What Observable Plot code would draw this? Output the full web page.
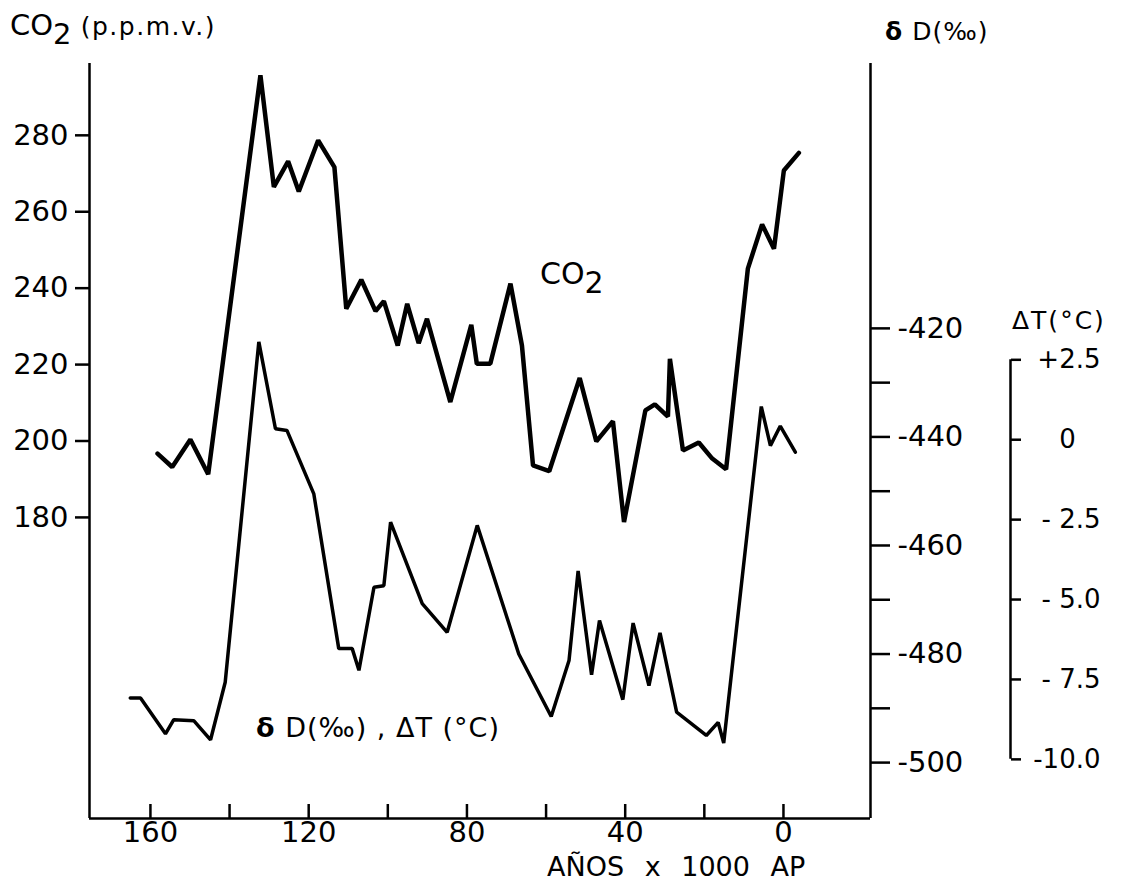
<!DOCTYPE html>
<html>
<head>
<meta charset="utf-8">
<script src="https://cdn.jsdelivr.net/npm/d3@7"></script>
<script src="https://cdn.jsdelivr.net/npm/@observablehq/plot@0.6"></script>
<style>
  html, body { margin: 0; padding: 0; background: #fff; }
  #wrap { position: relative; width: 1123px; height: 885px; font-family: "DejaVu Sans", sans-serif; color: #000; }
  #wrap svg { position: absolute; left: 0; top: 0; }
  .lbl { position: absolute; line-height: 1; white-space: nowrap; }
  .sub { position: relative; top: 0.3em; font-size: 1em; }
</style>
</head>
<body>
<div id="wrap">
  <div class="lbl" style="left:10px;top:11px;font-size:29px;">CO<span class="sub">2</span> <span style="font-size:25px;letter-spacing:1.5px;">(p.p.m.v.)</span></div>
  <div class="lbl" style="left:885px;top:19px;font-size:25px;letter-spacing:1px;"><b>δ</b> D(‰)</div>
  <div class="lbl" style="left:1012px;top:308px;font-size:25px;letter-spacing:2px;">ΔT(°C)</div>
  <div class="lbl" style="left:540px;top:259px;font-size:30px;">CO<span class="sub">2</span></div>
  <div class="lbl" style="left:256px;top:714px;font-size:27px;letter-spacing:1px;"><b>δ</b> D(‰) , ΔT (°C)</div>
  <div class="lbl" style="left:547px;top:853px;font-size:27px;word-spacing:12px;">AÑOS x 1000 AP</div>
</div>
<script>
// ---- data (ages in thousands of years before present) ----
const co2Age = [158.2, 154.5, 149.9, 145.4, 132.2, 128.8, 125.2, 122.5, 117.6, 113.5, 110.5, 106.7, 103.1, 101.0, 97.5, 95.1, 92.2, 90.1, 84.2, 78.9, 77.5, 74.1, 69.0, 66.1, 63.3, 59.2, 51.5, 47.3, 43.1, 40.3, 34.9, 32.5, 29.2, 28.7, 25.4, 21.4, 18.0, 14.5, 9.0, 5.4, 2.4, -0.1, -3.9];
const co2Ppm = [196.7, 193.2, 200.4, 191.3, 295.7, 266.5, 273.2, 265.3, 278.7, 271.7, 234.6, 242.2, 234.0, 236.6, 225.0, 235.9, 225.6, 232.0, 210.2, 230.4, 220.2, 220.2, 241.2, 225.0, 193.6, 192.1, 216.5, 199.9, 205.2, 178.8, 208.0, 209.6, 206.4, 221.5, 197.5, 199.6, 195.4, 192.6, 245.1, 256.7, 250.3, 270.8, 275.4];

const dDAge = [165.1, 162.5, 156.2, 154.1, 149.0, 144.8, 141.1, 132.6, 128.4, 125.5, 118.7, 112.4, 109.0, 107.3, 103.5, 101.0, 99.3, 91.3, 85.0, 77.4, 66.9, 58.7, 54.2, 51.9, 48.5, 46.5, 40.6, 38.0, 34.0, 31.2, 27.0, 19.5, 16.5, 15.1, 5.6, 3.3, 0.8, -3.0];
const dDVal = [-488.1, -488.1, -494.7, -492.1, -492.3, -495.8, -485.2, -422.5, -438.5, -438.8, -450.5, -479.0, -479.0, -483.0, -467.7, -467.4, -455.7, -470.7, -476.0, -456.3, -480.0, -491.5, -481.2, -464.7, -483.8, -473.8, -488.4, -474.3, -485.8, -476.1, -490.7, -495.0, -492.6, -496.4, -434.4, -441.6, -438.0, -442.8];

// ---- ticks ----
const xTicks = [160, 140, 120, 100, 80, 60, 40, 20, 0];
const xLabels = [160, 120, 80, 40, 0];
const co2Ticks = [180, 200, 220, 240, 260, 280];
const dDTicks = [-420, -430, -440, -450, -460, -470, -480, -490, -500];
const dTTicks = [2.5, 0, -2.5, -5, -7.5, -10];
const dTLabels = ["+2.5", "0\u2008\u2007", "- 2.5", "- 5.0", "- 7.5", "-10.0"];

// ---- layout ----
const W = 1123, H = 885;
const mTop = 63, mBottom = 885 - 818, mLeft = 89, mRight = 1123 - 870;
const xDomain = [175.4, -22.0];
const co2Domain = [101.2, 298.8];
const dDDomain = [-510.3, -371.2];
const dTDomain = [-11.85, 11.77];
const frameH = H - mTop - mBottom;
const font = "DejaVu Sans, sans-serif";

const co2Data = co2Age.map((a, i) => ({age: a, v: co2Ppm[i]}));
const dDData = dDAge.map((a, i) => ({age: a, v: dDVal[i]}));

const baseStyle = {background: "transparent", fontFamily: font, fontSize: "29px", color: "black", overflow: "visible"};

const main = Plot.plot({
  width: W, height: H,
  marginTop: mTop, marginBottom: mBottom, marginLeft: mLeft, marginRight: mRight,
  style: baseStyle,
  x: {domain: xDomain, label: null},
  y: {domain: co2Domain, label: null},
  marks: [
    Plot.ruleX([xDomain[0]], {stroke: "black", strokeWidth: 2.5}),
    Plot.ruleX([xDomain[1]], {stroke: "black", strokeWidth: 2.5}),
    Plot.ruleY([co2Domain[0]], {stroke: "black", strokeWidth: 2.5}),
    Plot.ruleX(xTicks, {x: d => d, stroke: "black", strokeWidth: 2.5, insetTop: frameH - 14}),
    Plot.axisX(xLabels, {anchor: "bottom", tickSize: 0, tickPadding: 3, fontSize: 29, label: null, tickFormat: d => String(d)}),
    Plot.axisY(co2Ticks, {anchor: "left", tickSize: 14, tickPadding: 7, strokeWidth: 2.5, fontSize: 29, label: null, tickFormat: d => String(d)}),
    Plot.line(co2Data, {x: "age", y: "v", stroke: "black", strokeWidth: 4.5, strokeLinejoin: "miter"})
  ]
});

const dD = Plot.plot({
  width: W, height: H,
  marginTop: mTop, marginBottom: mBottom, marginLeft: mLeft, marginRight: mRight,
  style: baseStyle,
  x: {domain: xDomain, axis: null, label: null},
  y: {domain: dDDomain, label: null},
  marks: [
    Plot.axisY(dDTicks, {anchor: "right", tickSize: 19, tickPadding: 8, strokeWidth: 2.5, fontSize: 29, label: null,
      tickFormat: d => (d % 20 === 0 ? "-" + Math.abs(d) : "")}),
    Plot.line(dDData, {x: "age", y: "v", stroke: "black", strokeWidth: 3.5, strokeLinejoin: "miter"})
  ]
});

const dT = Plot.plot({
  width: W, height: H,
  marginTop: mTop, marginBottom: mBottom, marginLeft: 0, marginRight: 113,
  style: baseStyle,
  x: {domain: [0, 1], axis: null, label: null},
  y: {domain: dTDomain, label: null},
  marks: [
    Plot.ruleX([1], {y1: dTTicks[dTTicks.length - 1], y2: dTTicks[0], stroke: "black", strokeWidth: 2.5}),
    Plot.axisY(dTTicks, {anchor: "right", tickSize: 10, tickPadding: 80, textAnchor: "end", strokeWidth: 2.5, fontSize: 26, label: null,
      tickFormat: (d) => dTLabels[dTTicks.indexOf(d)]})
  ]
});

const wrap = document.getElementById("wrap");
wrap.prepend(dT);
wrap.prepend(dD);
wrap.prepend(main);
</script>
</body>
</html>
